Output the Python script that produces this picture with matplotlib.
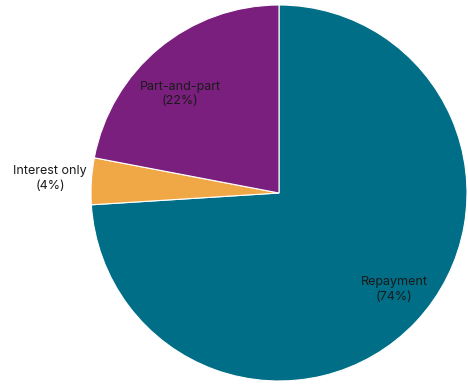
import matplotlib
matplotlib.use("Agg")
import matplotlib.pyplot as plt
import numpy as np

# Mortgage repayment types, share of loans
labels = ["Repayment", "Interest only", "Part-and-part"]
shares = [74, 4, 22]
colors = ["#006e87", "#f0a847", "#7a1f7d"]

plt.rcParams["font.family"] = ["Inter", "DejaVu Sans"]

fig = plt.figure(figsize=(4.68, 3.85), dpi=100)
ax = fig.add_axes([0, 0, 1, 1])

wedges, _ = ax.pie(shares, colors=colors, startangle=90, counterclock=False,
                   wedgeprops=dict(edgecolor="white", linewidth=0.8))

# labels near each slice's middle angle (radius, angle nudge in degrees)
placement = [(0.80, 3.3), (1.22, 0.0), (0.745, 5.4)]
for w, lab, val, (r, nudge) in zip(wedges, labels, shares, placement):
    ang = np.deg2rad((w.theta1 + w.theta2) / 2 + nudge)
    ax.text(r * np.cos(ang), r * np.sin(ang), f"{lab}\n({val}%)",
            ha="center", va="center", fontsize=9, color="#1a1a1a",
            linespacing=1.3)

# pie centre sits right of the middle, radius ~188 px
ax.set_aspect("auto")
ax.set_xlim(-279 / 188, 189 / 188)
ax.set_ylim(-192 / 188, 193 / 188)
ax.axis("off")

fig.savefig("out.png", dpi=100)
